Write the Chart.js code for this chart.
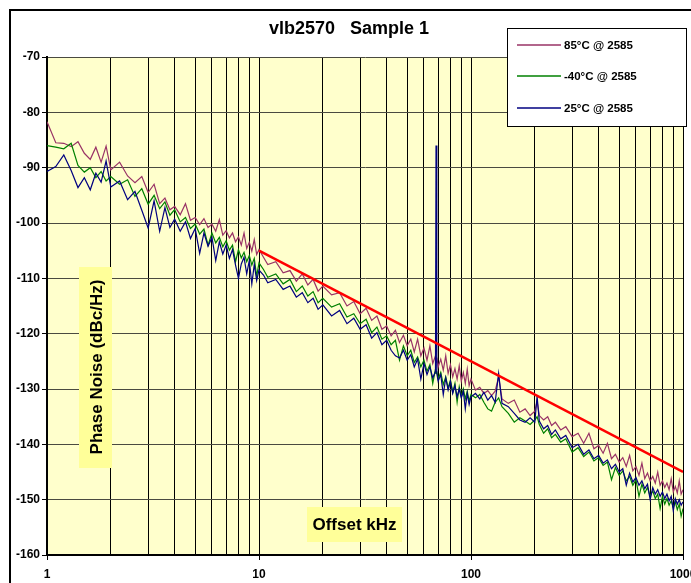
<!DOCTYPE html>
<html lang="en">
<head>
    <meta charset="UTF-8">
    <title>vlb2570 Sample 1</title>
    <script src="https://cdn.jsdelivr.net/npm/chart.js@4/dist/chart.umd.min.js"></script>
    <style>
        html, body { margin: 0; padding: 0; background: #fff; }
        .chart-box { width: 691px; height: 583px; }
    </style>
</head>
<body>
<div class="chart-box">
    <canvas id="chart" width="691" height="583"></canvas>
</div>
<script>
    const offsetKHz = [
        1, 1.1, 1.2, 1.3, 1.4, 1.5, 1.6, 1.7, 1.8, 1.9,
        2, 2.2, 2.4, 2.6, 2.8, 3, 3.2, 3.4, 3.6, 3.8,
        4, 4.25, 4.5, 4.75, 5, 5.25, 5.5, 5.75, 6, 6.25, 6.5, 6.75,
        7, 7.25, 7.5, 7.75, 8, 8.25, 8.5, 8.75, 9, 9.25, 9.5, 9.75, 10,
        10.5, 11, 12, 13, 14, 15, 16, 17, 18, 19, 20,
        22, 24, 26, 28, 30, 32, 34, 36, 38,
        40, 42, 44, 46, 48, 50, 52, 54, 56, 58, 60, 62, 64, 66,
        68, 68.4, 69, 70,
        72, 74, 76, 78, 80, 82, 84, 86, 88, 90, 92, 94, 96, 98, 100,
        105, 110, 115, 120, 125, 130, 135, 140,
        150, 160, 170, 180, 190, 200,
        205, 210, 220, 230, 240, 250, 265, 280,
        300, 320, 340, 360, 380, 400, 420, 440, 460, 480, 500, 520,
        540, 560, 580, 600, 620, 640, 660, 680, 700, 720, 740, 760,
        780, 800, 820, 840, 860, 880, 900, 920, 940, 960, 980, 1000
    ];

    const noise85 = [
        -81.7, -85.5, -85.6, -86.2, -85.3, -87.4, -88.5, -86.3, -89, -86.1,
        -90.4, -89, -91.5, -92.7, -91.6, -94.5, -93, -96.5, -95.5, -97.6,
        -97, -98.5, -96.5, -99.5, -99, -100.3, -99.2, -100.8, -100.2, -101.5, -99.4, -102.2,
        -101.4, -102.7, -101.8, -103.4, -102.5, -104, -101.8, -104.6, -103.5, -105.1, -103, -105.7, -104.8,
        -106.2, -107.5, -107, -109, -108.6, -110.5, -109.2, -111.2, -110.2, -112.3, -111.4,
        -113, -112.6, -115, -114.2, -116.4, -115.4, -117.6, -116.8, -119.2,
        -118.6, -120.4, -119.4, -121.6, -120.3, -122.2, -121, -123.3, -121, -124, -122.6, -124.8, -122.2, -125.4,
        -124, -125.2, -124.3, -126,
        -124.6, -126.6, -124, -127.2, -125.6, -127.8, -126.3, -128.2, -125.8, -128.6, -127, -129, -126.4, -129.4, -128.2,
        -130.2, -129.7, -130.8, -130.3, -131.2, -130.4, -127.8, -131.8,
        -132.6, -132, -134.2, -133.6, -134.8, -134,
        -132.2, -134.8, -135.6, -135, -136.6, -136, -137.4, -136.8,
        -138.6, -138, -139.8, -138, -140.8, -140.2, -141.6, -139.8, -142.6, -141.8, -143.2, -142.4,
        -144, -142, -144.8, -144, -145.6, -143.4, -146.2, -145.2, -146.6, -145.8, -147, -145,
        -147.4, -146.6, -147.8, -147, -148.2, -146.2, -148.6, -147.6, -148.8, -146.6, -149, -148.2
    ];

    const noiseMinus40 = [
        -86, -86.3, -86.6, -85.6, -89.6, -90.8, -90, -91.8, -90.7, -92.4,
        -91.6, -93, -92.2, -95.2, -93.8, -96.6, -95, -97.4, -96.2, -98.6,
        -97.6, -99.8, -99, -101, -100.2, -102, -101.1, -104, -101.8, -103.6, -102.6, -104.3,
        -103.2, -104.9, -104, -107, -104.8, -106.3, -105.3, -107, -105.9, -107.6, -106.4, -109.6, -107.2,
        -108.4, -109.8, -109.2, -111, -110.2, -112.4, -111.4, -113.2, -112.4, -114.4, -113.6,
        -115.2, -114.6, -117, -116.4, -118.2, -117.4, -119.8, -118.8, -121,
        -120.4, -122, -121.2, -124.8, -122.2, -124, -123, -125.2, -124.2, -126, -124.8, -126.8, -125.6, -129,
        -126.4, -127.2, -126.8, -128.2,
        -127, -129.2, -127.8, -129.8, -128.4, -130.6, -129, -132.4, -129.6, -131.4, -130, -131.8, -130.4, -132.2, -131,
        -131.6, -131, -132.4, -133.6, -134, -132.4, -131.6, -133.2,
        -134.4, -136, -135.2, -135.8, -136.4, -135.6,
        -135, -136.4, -138, -137.2, -138.8, -138.2, -139.6, -139,
        -141.4, -140.6, -142.2, -141.4, -143, -142.4, -143.8, -143.2, -146.4, -144.2, -145.6, -144.8,
        -146.6, -145.8, -147.4, -146.4, -149.4, -147.2, -148.8, -147.8, -149.4, -148.4, -149.8, -149,
        -151.6, -149.4, -150.8, -149.8, -151, -150.2, -151.4, -150.4, -151.8, -150.8, -153, -151.6
    ];

    const noise25 = [
        -90.7, -89.8, -87.7, -90.5, -93.6, -91.8, -94, -91, -92.6, -88.8,
        -93.5, -92.4, -95.8, -94.3, -97.7, -100.9, -96, -101.5, -97.2, -100.8,
        -99.3, -101.5, -99.8, -102.8, -101, -105.5, -101.8, -104.2, -102.6, -106.8, -103.4, -105.6,
        -104, -106.4, -104.8, -107.6, -110, -107.4, -106.2, -109.2, -106.8, -111, -107.5, -110.4, -108.5,
        -109.4, -110.8, -110.2, -112, -111.4, -113.4, -112.6, -114.4, -113.6, -115.6, -114.8,
        -116.8, -115.8, -118.2, -117.2, -119.2, -118.4, -120.8, -119.8, -122,
        -121.2, -123, -124, -124.4, -123, -124.8, -123.8, -126, -124.6, -128.2, -125.4, -127.4, -126, -128,
        -126.8, -86, -127.2, -128.6,
        -127.4, -131, -128, -130.2, -128.6, -130.8, -129.4, -131.4, -130, -131.6, -130.4, -133.6, -130.8, -132.8, -131.4,
        -130.8, -131.8, -130.6, -132, -131.2, -132.4, -127.2, -132.6,
        -133.2, -134.4, -135.6, -136, -135.2, -136,
        -131.3, -135.8, -137.2, -136.6, -138.2, -137.4, -139, -138.4,
        -140.6, -140, -141.8, -141, -142.6, -142, -143.4, -142.8, -144.4, -143.6, -145, -144.4,
        -147.4, -145.2, -146.8, -146, -147.4, -146.6, -148, -147.2, -150, -147.8, -149, -148.2,
        -149.4, -148.6, -149.8, -149, -150.2, -149.4, -152, -149.8, -150.8, -150, -151, -150.4
    ];

    const limitKHz = [10, 1000];
    const limitDbc = [-105, -145];

    const seriesNames = ['85°C @ 2585', '-40°C @ 2585', '25°C @ 2585'];
    const seriesColors = ['#993366', '#008000', '#000080'];
    const majorTicks = [1, 10, 100, 1000];

    function toPoints(xs, ys) {
        return xs.map((x, i) => ({x: x, y: ys[i]}))
    }

    const frame = {
        id: 'frame',
        beforeDraw(chart) {
            const ctx = chart.ctx
            const a = chart.chartArea
            ctx.save()
            ctx.fillStyle = '#fff'
            ctx.fillRect(0, 0, chart.width, chart.height)
            ctx.fillStyle = '#FFFFCC'
            ctx.fillRect(a.left, a.top, a.right - a.left, a.bottom - a.top)
            ctx.restore()
        },
        afterDraw(chart) {
            const ctx = chart.ctx
            const xs = chart.scales.x
            ctx.save()

            ctx.strokeStyle = '#000'
            ctx.lineWidth = 2
            ctx.strokeRect(10, 10, 700, 600)

            ctx.fillStyle = '#000'
            ctx.textAlign = 'center'
            ctx.textBaseline = 'middle'
            ctx.font = 'bold 18px Arial, "Liberation Sans"'
            ctx.fillText('vlb2570   Sample 1', 349, 29)

            ctx.font = 'bold 12px Arial, "Liberation Sans"'
            majorTicks.forEach(v => {
                ctx.fillText(String(v), xs.getPixelForValue(v), 575)
            })

            // legend
            ctx.fillStyle = '#fff'
            ctx.fillRect(507, 28, 179, 98)
            ctx.strokeStyle = '#000'
            ctx.lineWidth = 1
            ctx.strokeRect(507.5, 28.5, 179, 98)
            ctx.font = 'bold 11.5px Arial, "Liberation Sans"'
            ctx.textAlign = 'left'
            const rows = [45, 76, 108]
            seriesNames.forEach((name, i) => {
                ctx.strokeStyle = seriesColors[i]
                ctx.lineWidth = 1.5
                ctx.beginPath()
                ctx.moveTo(517, rows[i])
                ctx.lineTo(561, rows[i])
                ctx.stroke()
                ctx.fillStyle = '#000'
                ctx.fillText(name, 564, rows[i] + 1)
            })

            // axis titles
            ctx.fillStyle = '#FFFF99'
            ctx.fillRect(79, 267, 33, 201)
            ctx.fillRect(307, 507, 95, 35)
            ctx.fillStyle = '#000'
            ctx.textAlign = 'center'
            ctx.font = 'bold 17px Arial, "Liberation Sans"'
            ctx.fillText('Offset kHz', 354.5, 525)
            ctx.translate(96, 367)
            ctx.rotate(-Math.PI / 2)
            ctx.fillText('Phase Noise (dBc/Hz)', 0, 1)

            ctx.restore()
        }
    }

    new Chart(document.getElementById('chart'), {
        type: 'line',
        data: {
            datasets: [
                {
                    label: 'limit',
                    data: toPoints(limitKHz, limitDbc),
                    borderColor: '#FF0000',
                    borderWidth: 2.5,
                    order: 0,
                },
                {
                    label: seriesNames[2],
                    data: toPoints(offsetKHz, noise25),
                    borderColor: seriesColors[2],
                    borderWidth: 1.2,
                    order: 1,
                },
                {
                    label: seriesNames[1],
                    data: toPoints(offsetKHz, noiseMinus40),
                    borderColor: seriesColors[1],
                    borderWidth: 1.2,
                    order: 2,
                },
                {
                    label: seriesNames[0],
                    data: toPoints(offsetKHz, noise85),
                    borderColor: seriesColors[0],
                    borderWidth: 1.2,
                    order: 3,
                },
            ],
        },
        options: {
            responsive: false,
            animation: false,
            events: [],
            elements: {
                point: {radius: 0},
                line: {tension: 0, fill: false},
            },
            layout: {
                padding: {left: 10, top: 57, right: 8, bottom: 23},
            },
            plugins: {
                legend: {display: false},
                title: {display: false},
                tooltip: {enabled: false},
            },
            scales: {
                x: {
                    type: 'logarithmic',
                    min: 1,
                    max: 1000,
                    afterBuildTicks(scale) {
                        const ticks = []
                        for (let d = 1; d < 1000; d *= 10) {
                            for (let m = 1; m < 10; m++) ticks.push({value: m * d})
                        }
                        ticks.push({value: 1000})
                        scale.ticks = ticks
                    },
                    ticks: {display: false},
                    grid: {
                        color: '#000',
                        lineWidth: 1,
                        tickLength: 5,
                        tickWidth: 1,
                        tickColor: c => majorTicks.includes(c.tick && c.tick.value) ? '#000' : 'rgba(0,0,0,0)',
                    },
                    border: {color: '#000', width: 2},
                },
                y: {
                    min: -160,
                    max: -70,
                    afterFit(scale) {
                        scale.width = 37
                    },
                    ticks: {
                        stepSize: 10,
                        color: '#000',
                        padding: 2,
                        font: {family: 'Arial, "Liberation Sans"', size: 12, weight: 'bold'},
                    },
                    grid: {
                        color: '#4a4a40',
                        lineWidth: 1,
                        tickLength: 5,
                        tickColor: '#000',
                    },
                    border: {color: '#000', width: 2},
                },
            },
        },
        plugins: [frame],
    });
</script>
</body>
</html>
